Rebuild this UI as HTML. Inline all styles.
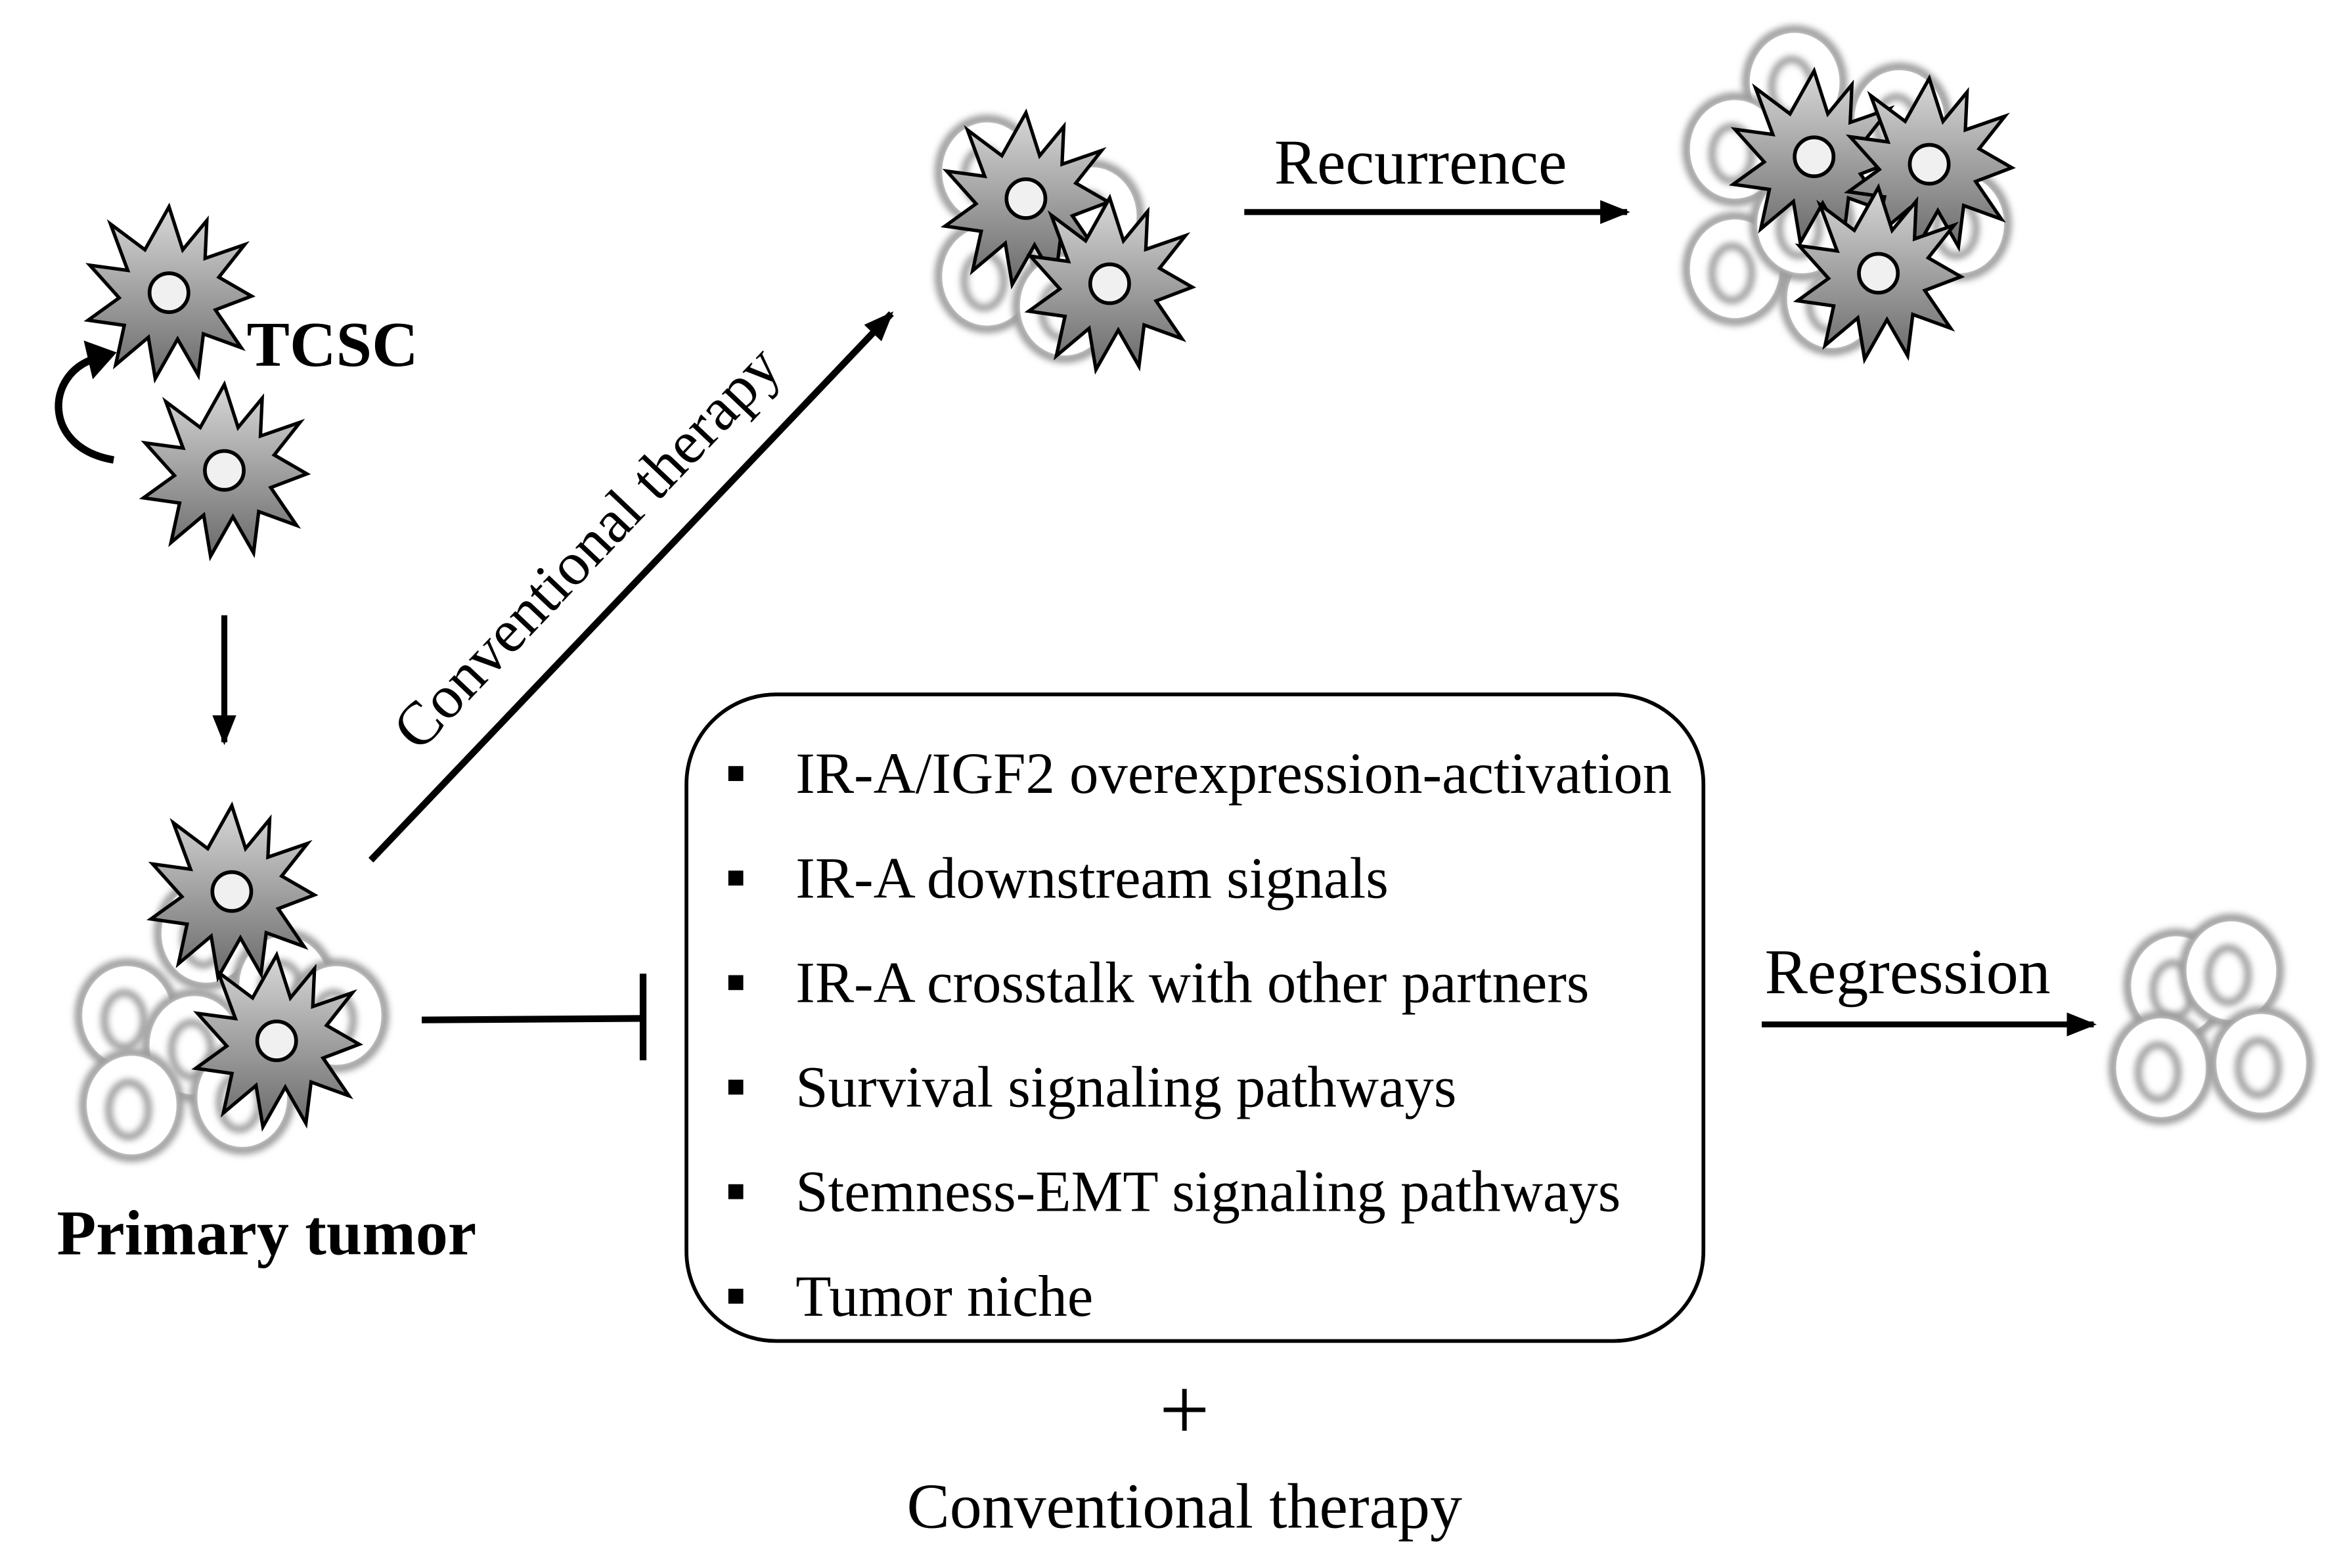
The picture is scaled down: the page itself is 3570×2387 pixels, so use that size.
<!DOCTYPE html>
<html><head><meta charset="utf-8"><style>html,body{margin:0;padding:0;background:#fff}svg{display:block}</style></head>
<body>
<svg width="3570" height="2387" viewBox="0 0 1568 1050" preserveAspectRatio="none" xmlns="http://www.w3.org/2000/svg" font-family="Liberation Serif, serif">
<defs>
<linearGradient id="g" x1="0" y1="0" x2="0" y2="1"><stop offset="0" stop-color="#d8d8d8"/><stop offset="1" stop-color="#6a6a6a"/></linearGradient>
<filter id="b" x="-40%" y="-40%" width="180%" height="180%"><feGaussianBlur stdDeviation="2.2"/></filter>
<g id="cell">
<ellipse cx="0" cy="0" rx="32" ry="35" fill="#fff" stroke="#999" stroke-width="6" filter="url(#b)"/>
<ellipse cx="0" cy="0" rx="30" ry="33" fill="#fff" stroke="none"/>
<ellipse cx="-2" cy="3" rx="13" ry="18" fill="#fff" stroke="#999" stroke-width="5" filter="url(#b)"/>
</g>
<g id="star">
<g transform="scale(1.15)">
<polygon points="0,-50 8,-25 22,-42 21,-20 44,-28 29,-9 48,2 27,10 42,32 20,24 17,48 5,27 -8,50 -12,26 -31,42 -26,19 -47,16 -29,3 -46,-16 -24,-13 -34,-40 -14,-25" fill="url(#g)" stroke="#000" stroke-width="2" stroke-linejoin="miter"/>
</g>
<circle cx="0" cy="0" r="13" fill="#f0f0f0" stroke="#000" stroke-width="2.5"/>
</g>
<marker id="ar2" markerWidth="20" markerHeight="16" refX="18" refY="8" orient="auto" markerUnits="userSpaceOnUse"><path d="M0,0 L20,8 L0,16 Z" fill="#000"/></marker>
</defs>

<!-- TCSC -->
<use href="#star" x="113" y="196"/>
<use href="#star" x="150" y="315"/>
<text x="165" y="245" font-size="43" font-weight="bold">TCSC</text>
<path d="M76,308 C28,300 30,250 64,240" fill="none" stroke="#000" stroke-width="5"/>
<path d="M56,228 L78,236 L62,254 Z" fill="#000"/>
<line x1="150" y1="412" x2="150" y2="497" stroke="#000" stroke-width="4" marker-end="url(#ar2)"/>

<!-- Primary tumor -->
<use href="#cell" x="85" y="680"/>
<use href="#cell" x="138" y="625"/>
<use href="#cell" x="190" y="660"/>
<use href="#cell" x="225" y="680"/>
<use href="#cell" x="130" y="700"/>
<use href="#cell" x="88" y="740"/>
<use href="#cell" x="162" y="735"/>
<use href="#star" x="155" y="597"/>
<use href="#star" x="185" y="697"/>
<text x="38" y="840" font-size="43" font-weight="bold">Primary tumor</text>

<!-- diagonal -->
<line x1="248" y1="576" x2="596" y2="210" stroke="#000" stroke-width="4.5" marker-end="url(#ar2)"/>
<text x="0" y="0" font-size="41" text-anchor="middle" transform="translate(402,376) rotate(-46.5)">Conventional therapy</text>

<!-- top cluster -->
<use href="#cell" x="660" y="115"/>
<use href="#cell" x="730" y="145"/>
<use href="#cell" x="660" y="185"/>
<use href="#cell" x="712" y="205"/>
<use href="#star" x="686" y="133"/>
<use href="#star" x="742" y="190"/>
<text x="852" y="123" font-size="43">Recurrence</text>
<line x1="832" y1="142" x2="1088" y2="142" stroke="#000" stroke-width="4" marker-end="url(#ar2)"/>

<!-- recurrence cluster -->
<use href="#cell" x="1200" y="55"/>
<use href="#cell" x="1270" y="80"/>
<use href="#cell" x="1160" y="100"/>
<use href="#cell" x="1310" y="150"/>
<use href="#cell" x="1160" y="180"/>
<use href="#cell" x="1225" y="200"/>
<use href="#cell" x="1205" y="150"/>
<use href="#star" x="1213" y="105"/>
<use href="#star" x="1290" y="110"/>
<use href="#star" x="1256" y="183"/>

<!-- inhibit -->
<line x1="282" y1="683" x2="430" y2="682" stroke="#000" stroke-width="4.5"/>
<line x1="430" y1="652" x2="430" y2="710" stroke="#000" stroke-width="4.5"/>

<!-- box -->
<rect x="459" y="465" width="680" height="433" rx="60" ry="60" fill="none" stroke="#000" stroke-width="2.5"/>
<g font-size="39">
<rect x="487" y="513" width="10" height="10"/><text x="532" y="531">IR-A/IGF2 overexpression-activation</text>
<rect x="487" y="583" width="10" height="10"/><text x="532" y="601">IR-A downstream signals</text>
<rect x="487" y="653" width="10" height="10"/><text x="532" y="671">IR-A crosstalk with other partners</text>
<rect x="487" y="723" width="10" height="10"/><text x="532" y="741">Survival signaling pathways</text>
<rect x="487" y="793" width="10" height="10"/><text x="532" y="811">Stemness-EMT signaling pathways</text>
<rect x="487" y="863" width="10" height="10"/><text x="532" y="881">Tumor niche</text>
</g>
<text x="792" y="964" font-size="60" text-anchor="middle">+</text>
<text x="792" y="1023" font-size="43" text-anchor="middle">Conventional therapy</text>

<!-- regression -->
<text x="1180" y="665" font-size="43">Regression</text>
<line x1="1178" y1="686" x2="1400" y2="686" stroke="#000" stroke-width="4" marker-end="url(#ar2)"/>
<use href="#cell" x="1455" y="660"/>
<use href="#cell" x="1492" y="650"/>
<use href="#cell" x="1445" y="715"/>
<use href="#cell" x="1512" y="712"/>
</svg>
</body></html>
